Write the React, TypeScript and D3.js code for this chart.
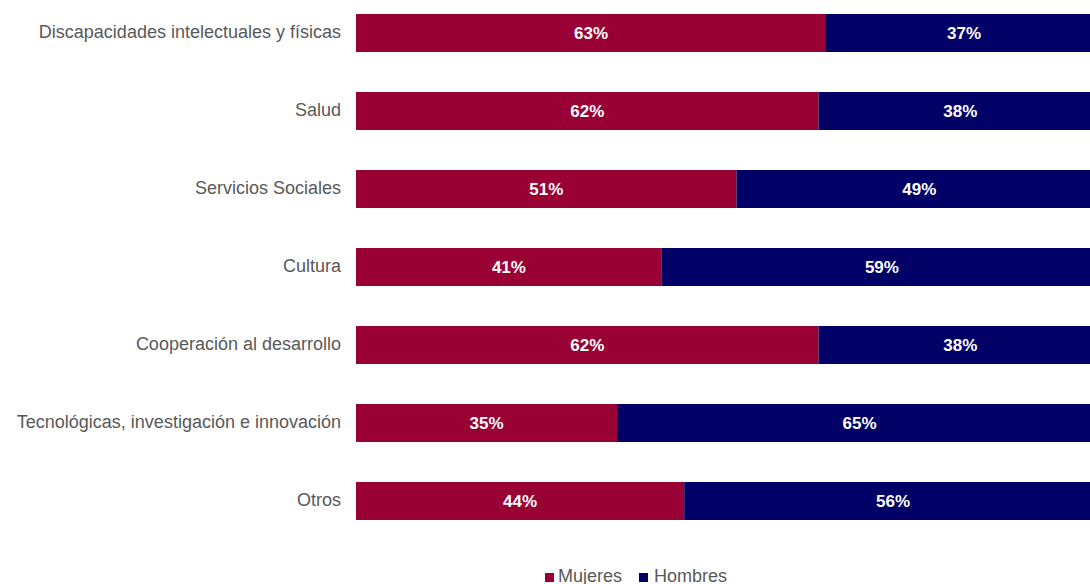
import React from "react";
import * as d3 from "d3";

const categories = [
  "Discapacidades intelectuales y físicas",
  "Salud",
  "Servicios Sociales",
  "Cultura",
  "Cooperación al desarrollo",
  "Tecnológicas, investigación e innovación",
  "Otros",
];
const mujeres = [63, 62, 51, 41, 62, 35, 44];
const hombres = [37, 38, 49, 59, 38, 65, 56];
const seriesNames = ["Mujeres", "Hombres"];
const colors = ["#990033", "#000066"];

const W = 1090;
const H = 584;

export default function App() {
  const x = d3.scaleLinear().domain([0, 100]).range([356, 1102]);
  const y = d3
    .scaleBand<string>()
    .domain(categories)
    .range([-6, 540])
    .paddingInner(40 / 78)
    .paddingOuter(20 / 78);
  const font = "'Liberation Sans', Arial, sans-serif";
  return (
    <svg
      width={W}
      height={H}
      style={{ position: "absolute", left: 0, top: 0, display: "block" }}
      fontFamily={font}
    >
      <rect width={W} height={H} fill="#fff" />
      {categories.map((c, i) => {
        const y0 = y(c)!;
        const bw = y.bandwidth();
        const m = mujeres[i];
        const h = hombres[i];
        return (
          <g key={c}>
            <text
              x={341}
              y={y0 + bw / 2 - 1}
              dy="0.35em"
              textAnchor="end"
              fontSize={18}
              fill="#595959"
            >
              {c}
            </text>
            <rect x={x(0)} y={y0} width={x(m) - x(0)} height={bw} fill={colors[0]} />
            <rect x={x(m)} y={y0} width={x(m + h) - x(m)} height={bw} fill={colors[1]} />
            <text
              x={(x(0) + x(m)) / 2}
              y={y0 + bw / 2}
              dy="0.35em"
              textAnchor="middle"
              fontSize={17}
              fontWeight="bold"
              fill="#fff"
            >
              {m}%
            </text>
            <text
              x={(x(m) + x(m + h)) / 2}
              y={y0 + bw / 2}
              dy="0.35em"
              textAnchor="middle"
              fontSize={17}
              fontWeight="bold"
              fill="#fff"
            >
              {h}%
            </text>
          </g>
        );
      })}
      <g>
        <rect x={545} y={573} width={9} height={9} fill={colors[0]} />
        <text x={558} y={582} fontSize={18} fill="#595959">
          {seriesNames[0]}
        </text>
        <rect x={639} y={573} width={9} height={9} fill={colors[1]} />
        <text x={654} y={582} fontSize={18} fill="#595959">
          {seriesNames[1]}
        </text>
      </g>
    </svg>
  );
}
